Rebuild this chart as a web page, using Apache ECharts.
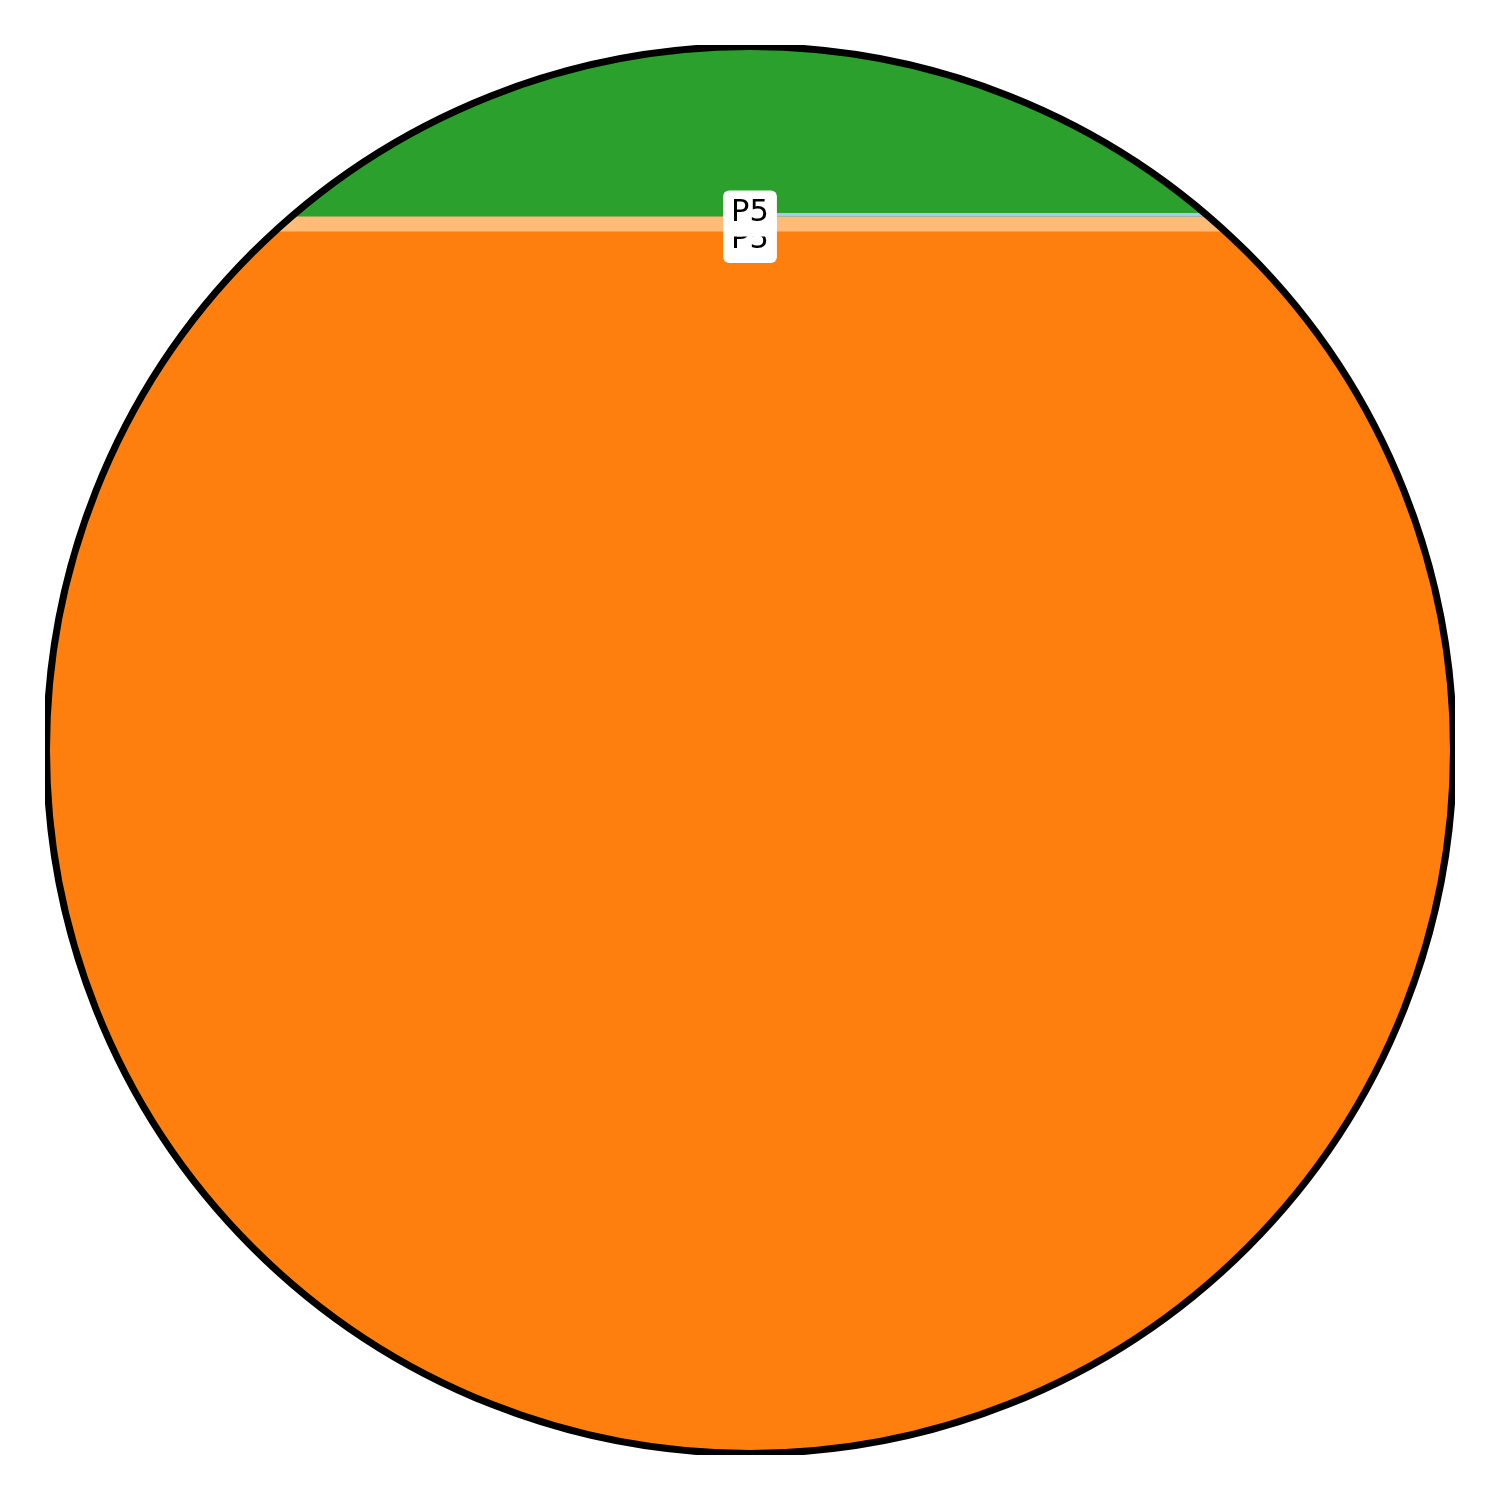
<!DOCTYPE html>
<html>
<head>
<meta charset="utf-8">
<script src="https://cdn.jsdelivr.net/npm/echarts@6/dist/echarts.min.js"></script>
<style>html,body{margin:0;padding:0;background:#fff;}#c{width:1500px;height:1500px;}</style>
</head>
<body>
<div id="c"></div>
<script>
// Bands of a unit circle, described by their vertical extent (circle radius = 1)
const bandNames  = ['A', 'B', 'C', 'D'];
const bandLow    = [-1.0,   0.7376, 0.7589, 0.7589];
const bandHigh   = [ 1.0,   1.0,    1.0,    0.7639];
const bandXMin   = [-1.0,  -1.0,   -1.0,    0.0];
const bandXMax   = [ 1.0,   1.0,    1.0,    1.0];
const bandColors = ['#ff7f0e', '#ffbb78', '#2ca02c', '#aec7e8'];

// Labels (lower one first so the upper one is drawn on top)
const labelTexts = ['P5', 'P5'];
const labelY     = [0.7255, 0.7632];

const axisLim = 705 / 703;
const outlineR = 703.5 / 703;

const chart = echarts.init(document.getElementById('c'), null, {renderer: 'canvas'});

function regionPoints(api, y0, y1, x0, x1) {
  const N = 240;
  const a0 = Math.asin(Math.max(-1, Math.min(1, y0)));
  const a1 = Math.asin(Math.max(-1, Math.min(1, y1)));
  const pts = [];
  for (let i = 0; i <= N; i++) {
    const a = a0 + (a1 - a0) * i / N;
    const y = Math.sin(a);
    const x = Math.min(x1, Math.cos(a));
    pts.push(api.coord([x, y]));
  }
  for (let i = N; i >= 0; i--) {
    const a = a0 + (a1 - a0) * i / N;
    const y = Math.sin(a);
    const x = Math.max(x0, -Math.cos(a));
    pts.push(api.coord([x, y]));
  }
  return pts;
}

const bandData = bandNames.map((n, i) => ({
  name: n,
  value: [bandLow[i], bandHigh[i], bandXMin[i], bandXMax[i]],
  itemStyle: {color: bandColors[i]}
}));

chart.setOption({
  animation: false,
  backgroundColor: '#ffffff',
  grid: {left: 45, top: 45, width: 1410, height: 1410, containLabel: false},
  xAxis: {type: 'value', min: -axisLim, max: axisLim, show: false},
  yAxis: {type: 'value', min: -axisLim, max: axisLim, show: false},
  series: [
    {
      type: 'custom',
      clip: true,
      silent: true,
      data: bandData,
      renderItem: function (params, api) {
        const y0 = api.value(0), y1 = api.value(1), x0 = api.value(2), x1 = api.value(3);
        return {
          type: 'polygon',
          shape: {points: regionPoints(api, y0, y1, x0, x1)},
          style: {fill: api.visual('color'), stroke: null}
        };
      },
      z: 1
    },
    {
      type: 'custom',
      clip: true,
      silent: true,
      data: [[0, 0]],
      renderItem: function (params, api) {
        const c = api.coord([0, 0]);
        const e = api.coord([outlineR, 0]);
        return {
          type: 'circle',
          shape: {cx: c[0], cy: c[1], r: e[0] - c[0]},
          style: {fill: null, stroke: '#000000', lineWidth: 7}
        };
      },
      z: 2
    },
    {
      type: 'scatter',
      symbolSize: 0,
      silent: true,
      z: 3,
      itemStyle: {opacity: 1},
      emphasis: {disabled: true},
      data: labelTexts.map((t, i) => ({name: t, value: [0, labelY[i]]})),
      label: {
        show: true,
        position: 'inside',
        formatter: p => p.name,
        fontFamily: 'DejaVu Sans',
        fontSize: 30.5,
        lineHeight: 30,
        color: '#000000',
        opacity: 1,
        backgroundColor: '#ffffff',
        borderRadius: 6,
        padding: [6, 8, 10, 8]
      }
    }
  ]
});
</script>
</body>
</html>
